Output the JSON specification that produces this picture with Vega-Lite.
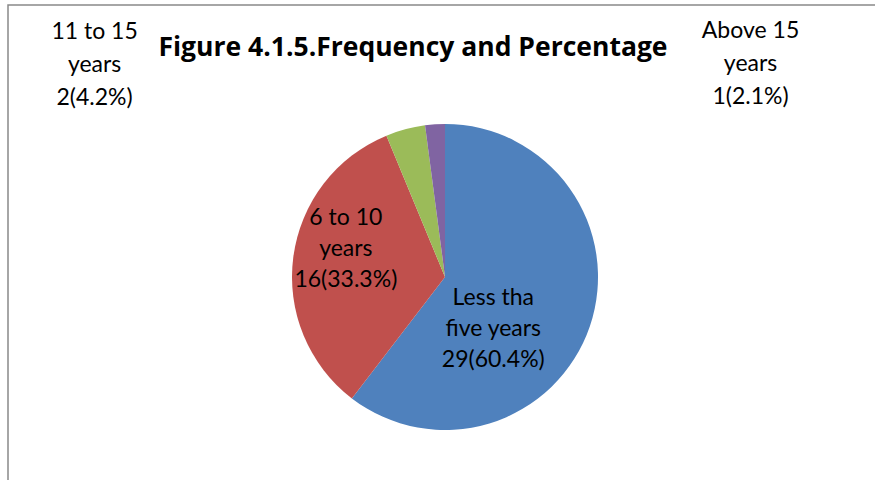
{
  "$schema": "https://vega.github.io/schema/vega-lite/v6.json",
  "width": 874,
  "height": 544,
  "padding": {"left": 8, "top": 5, "right": 0, "bottom": 0},
  "autosize": {"type": "none"},
  "background": "white",
  "view": {"stroke": "#898989", "strokeWidth": 1.5},
  "config": {
    "view": {"stroke": "#898989", "strokeWidth": 1.5},
    "font": "Lato"
  },
  "title": {
    "text": "Figure 4.1.5.Frequency and Percentage",
    "font": "Open Sans",
    "fontSize": 26.5,
    "fontWeight": "bold",
    "color": "black",
    "anchor": "middle",
    "baseline": "middle",
    "offset": -69,
    "dx": -32
  },
  "data": {
    "values": [
      {"cat": "Less tha five years", "count": 29, "lines": ["Less tha", "five years", "29(60.4%)"]},
      {"cat": "6 to 10 years", "count": 16, "lines": ["6 to 10", "years", "16(33.3%)"]},
      {"cat": "11 to 15 years", "count": 2, "lines": ["11 to 15", "years", "2(4.2%)"]},
      {"cat": "Above 15 years", "count": 1, "lines": ["Above 15", "years", "1(2.1%)"]}
    ]
  },
  "encoding": {
    "theta": {"field": "count", "type": "quantitative", "stack": true},
    "order": {"field": "count", "type": "quantitative", "sort": "descending"}
  },
  "layer": [
    {
      "mark": {"type": "arc", "outerRadius": 153},
      "encoding": {
        "color": {
          "field": "cat",
          "type": "nominal",
          "scale": {
            "domain": ["Less tha five years", "6 to 10 years", "11 to 15 years", "Above 15 years"],
            "range": ["#4F81BD", "#C0504D", "#9BBB59", "#8064A2"]
          },
          "legend": null
        }
      }
    },
    {
      "mark": {"type": "text", "radius": 70, "dx": -18, "dy": -2, "fontSize": 23, "lineHeight": 31, "align": "center", "baseline": "middle", "color": "black"},
      "encoding": {
        "text": {"condition": {"test": "datum.cat === 'Less tha five years'", "field": "lines"}, "value": ""}
      }
    },
    {
      "mark": {"type": "text", "radius": 100, "dx": 0, "dy": -46, "fontSize": 23, "lineHeight": 31, "align": "center", "baseline": "middle", "color": "black"},
      "encoding": {
        "text": {"condition": {"test": "datum.cat === '6 to 10 years'", "field": "lines"}, "value": ""}
      }
    },
    {
      "mark": {"type": "text", "radius": 160, "dx": -309, "dy": -90, "fontSize": 23, "lineHeight": 33, "align": "center", "baseline": "middle", "color": "black"},
      "encoding": {
        "text": {"condition": {"test": "datum.cat === '11 to 15 years'", "field": "lines"}, "value": ""}
      }
    },
    {
      "mark": {"type": "text", "radius": 160, "dx": 316, "dy": -86, "fontSize": 23, "lineHeight": 33, "align": "center", "baseline": "middle", "color": "black"},
      "encoding": {
        "text": {"condition": {"test": "datum.cat === 'Above 15 years'", "field": "lines"}, "value": ""}
      }
    }
  ]
}
